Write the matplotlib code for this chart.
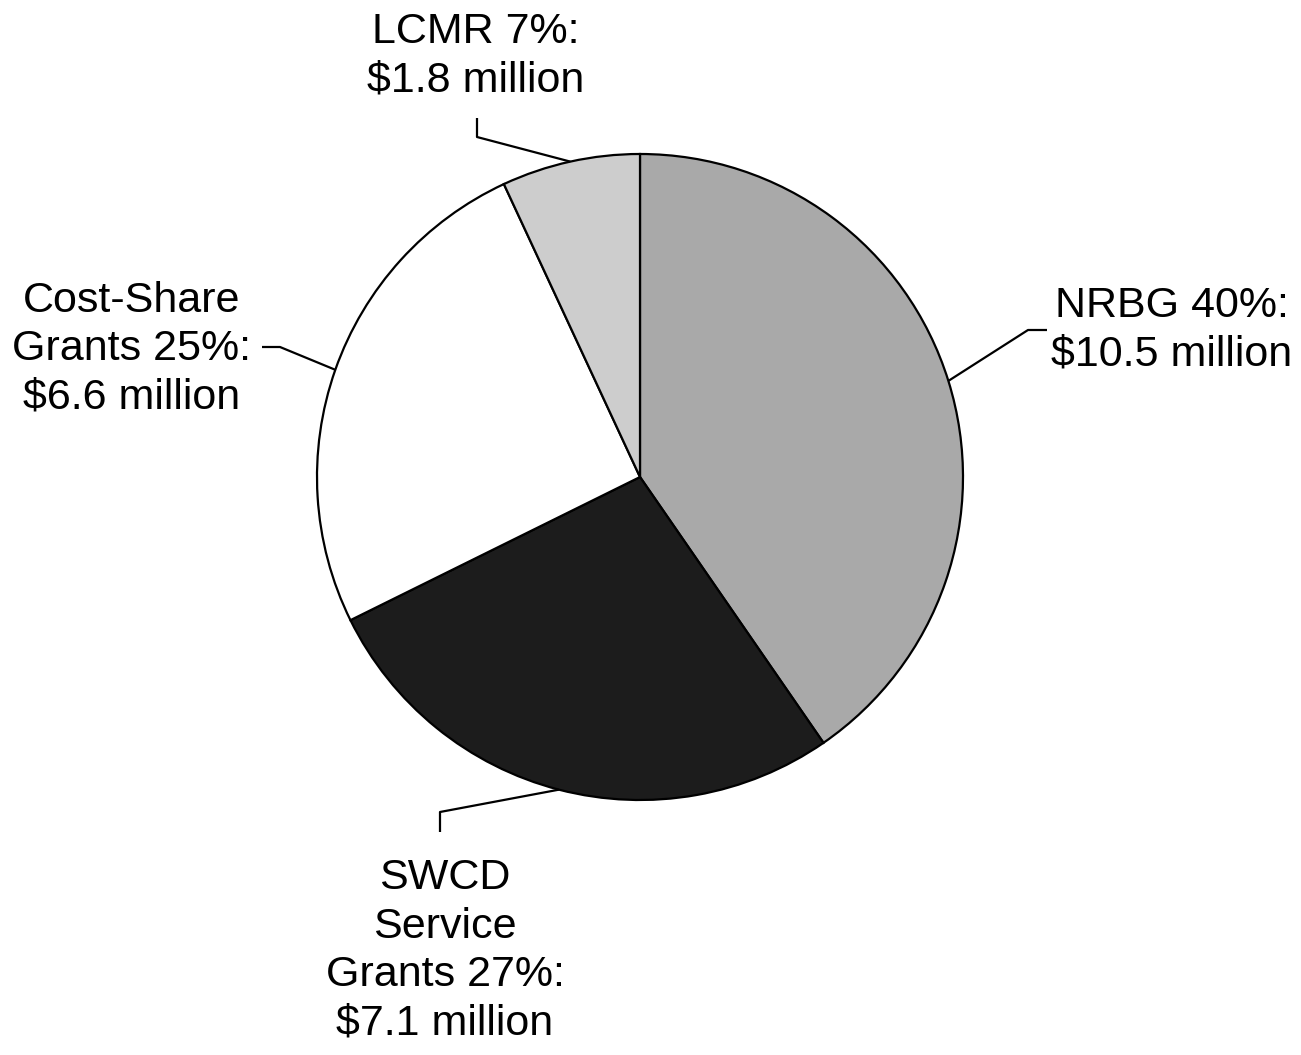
import numpy as np
import matplotlib
matplotlib.use("Agg")
import matplotlib.pyplot as plt

# ---------------------------------------------------------------------------
# Data
# ---------------------------------------------------------------------------
names = ["NRBG", "SWCD\nService\nGrants", "Cost-Share\nGrants", "LCMR"]
millions = [10.5, 7.1, 6.6, 1.8]
percents = [40, 27, 25, 7]
colors = ["#a9a9a9", "#1c1c1c", "#ffffff", "#cdcdcd"]

# label placement (figure pixels, y measured from top)
label_pos = [(1172, 330), (445, 951), (132, 349), (476, 56)]

W, H = 1301, 1055
plt.rcParams["font.family"] = ["Liberation Sans", "DejaVu Sans"]

fig = plt.figure(figsize=(W / 100, H / 100), dpi=100, facecolor="white")
ax = fig.add_axes([0, 0, 1, 1])

cx, cy, r = 640, H - 477, 323
wedges, _ = ax.pie(millions, colors=colors, startangle=90, counterclock=False,
                   center=(cx, cy), radius=r, frame=True,
                   wedgeprops=dict(edgecolor="black", linewidth=1.6))
ax.set_xlim(0, W)
ax.set_ylim(0, H)
ax.set_aspect("equal")
ax.axis("off")

# label text
texts = []
for nm, pct, m in zip(names, percents, millions):
    lines = nm.split("\n")
    lines[-1] = f"{lines[-1]} {pct}%:"
    texts.append("\n".join(lines) + f"\n${m} million")

for t, (px, py) in zip(texts, label_pos):
    ax.text(px, H - py, t, ha="center", va="center", multialignment="center",
            fontsize=31, linespacing=1.27, color="black")

# leader lines start at the wedge mid-angle on the rim
def edge_point(w):
    ang = np.deg2rad((w.theta1 + w.theta2) / 2)
    return cx + r * np.cos(ang), cy + r * np.sin(ang)

# elbow points for each leader (pixels from top)
elbows = [
    [(1028, 330), (1047, 330)],
    [(440, 812), (440, 832)],
    [(280, 347), (262, 347)],
    [(477, 137), (477, 118)],
]
for w, pts in zip(wedges, elbows):
    ex, ey = edge_point(w)
    xs = [ex] + [p[0] for p in pts]
    ys = [ey] + [H - p[1] for p in pts]
    ax.plot(xs, ys, color="black", linewidth=1.6, solid_capstyle="butt")

fig.savefig("out.png", dpi=100, facecolor="white")
